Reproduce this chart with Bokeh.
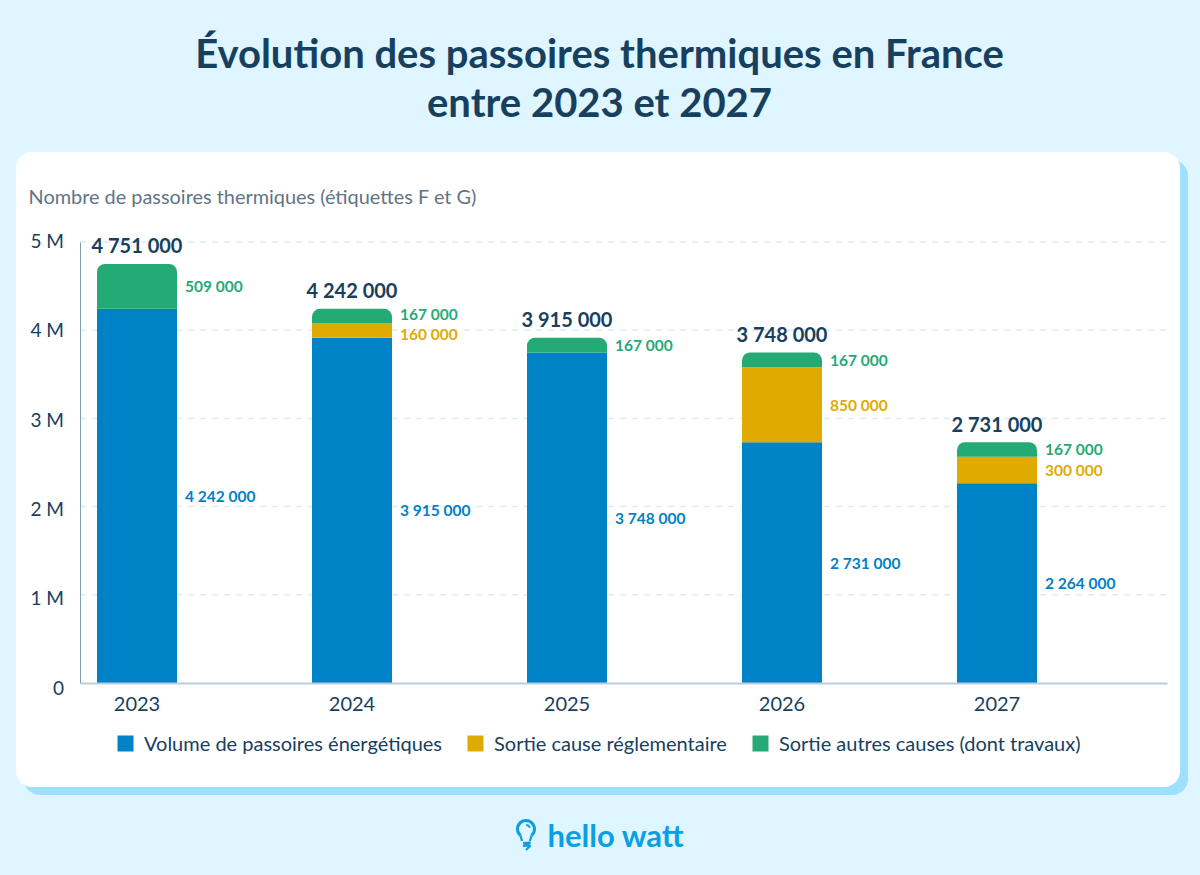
import numpy as np
from bokeh.plotting import figure
from bokeh.core.properties import value
from bokeh.models import (ColumnDataSource, LinearAxis, FixedTicker, Range1d, BoxAnnotation,
                          Label, Legend, LegendItem)
from bokeh.embed import file_html
from bokeh.resources import INLINE

# ---- data ----
years = ["2023", "2024", "2025", "2026", "2027"]
volume = [4242000, 3915000, 3748000, 2731000, 2264000]
reglementaire = [0, 160000, 0, 850000, 300000]
autres = [509000, 167000, 167000, 167000, 167000]
totals = [4751000, 4242000, 3915000, 3748000, 2731000]
series_names = ["Volume de passoires énergétiques", "Sortie cause réglementaire",
                "Sortie autres causes (dont travaux)"]
y_ticks = [0, 1000000, 2000000, 3000000, 4000000, 5000000]
y_tick_labels = ["0", "1 M", "2 M", "3 M", "4 M", "5 M"]
title_lines = ["Évolution des passoires thermiques en France", "entre 2023 et 2027"]
subtitle = "Nombre de passoires thermiques (étiquettes F et G)"
brand = "hello watt"

# ---- styling ----
BG, SHADOW, CARD = "#dff5ff", "#9de0ff", "#ffffff"
BLUE, YELLOW, GREEN = "#0082c6", "#e0ab00", "#24aa74"
NAVY, GREY, BRAND = "#17405f", "#5f7486", "#0a9fe3"
FONT = "Lato"
W, H = 1200, 875
SHIFT = 0.5                 # small registration offset between canvas and page
PX_UNIT_X = 215.0           # pixels per category
PX_UNIT_Y = 441.0 / 5e6     # pixels per housing unit
X0_PAGE, Y0_PAGE = 137.0, 683.0  # page position of first category / of zero


def dx(px):  # page px -> data x
    return (px - X0_PAGE) / PX_UNIT_X


def dy(py):  # page py -> data y
    return (Y0_PAGE - py) / PX_UNIT_Y


p = figure(width=W, height=H, output_backend="svg", toolbar_location=None,
           x_range=Range1d(dx(SHIFT), dx(W + SHIFT)), y_range=Range1d(dy(H + SHIFT), dy(SHIFT)),
           x_axis_location=None, y_axis_location=None, min_border=0,
           background_fill_color=BG, border_fill_color=BG, outline_line_color=None)
p.grid.visible = False

# tick labels sit on a slightly wider scale than the gridlines in the reference
LAB_UNIT = 446.5 / 5e6
p.extra_y_ranges = {"ticklabels": Range1d((687 - H - SHIFT) / LAB_UNIT, (687 - SHIFT) / LAB_UNIT)}

# ---- card ----
for (l, r, t, b, c) in [(23.5, 1187.5, 159.5, 794.5, SHADOW), (15.5, 1179.5, 151.5, 786.5, CARD)]:
    p.add_layout(BoxAnnotation(left=l, right=r, top=t, bottom=b, left_units="canvas",
                               right_units="canvas", top_units="canvas", bottom_units="canvas",
                               fill_color=c, fill_alpha=1, line_color=None, border_radius=16,
                               level="image"))

# ---- gridlines ----
x_left, x_right = dx(80), dx(1167)
grid_y = [v for v in y_ticks if v > 0]
gl = p.segment(x0=[x_left] * len(grid_y), x1=[x_right] * len(grid_y), y0=grid_y, y1=grid_y,
               line_color="#dfecf4", line_width=1.5, level="underlay")
gl.glyph.line_dash = [6, 6]

# ---- bars ----
x = list(range(len(years)))
vol = np.array(volume, dtype=float)
reg = np.array(reglementaire, dtype=float)
aut = np.array(autres, dtype=float)
source = ColumnDataSource(dict(x=x, b0=0 * vol, t0=vol, t1=vol + reg, t2=vol + reg + aut))
BAR_W = 80 / PX_UNIT_X
r0 = p.vbar(x="x", bottom="b0", top="t0", width=BAR_W, fill_color=BLUE, line_color=None, source=source)
r1 = p.vbar(x="x", bottom="t0", top="t1", width=BAR_W, fill_color=YELLOW, line_color=None, source=source)
r2 = p.vbar(x="x", bottom="t1", top="t2", width=BAR_W, fill_color=GREEN, line_color=None, source=source,
            border_radius=(8, 8, 0, 0))

# ---- axes ----
yax = LinearAxis(fixed_location=x_left, bounds=(0, 5000000), ticker=FixedTicker(ticks=y_ticks),
                 major_label_text_color=None, major_tick_line_color=None, minor_tick_line_color=None,
                 axis_line_color="#7f9fb3", axis_line_width=1)
p.add_layout(yax, "left")
ylab = LinearAxis(y_range_name="ticklabels", fixed_location=x_left, ticker=FixedTicker(ticks=y_ticks),
                  major_label_overrides=dict(zip(y_ticks, y_tick_labels)),
                  major_tick_line_color=None, minor_tick_line_color=None, axis_line_color=None,
                  major_label_text_font=FONT, major_label_text_font_size="19px",
                  major_label_text_color=NAVY, major_label_standoff=10)
p.add_layout(ylab, "left")
xax = LinearAxis(fixed_location=0, bounds=(x_left, x_right), ticker=FixedTicker(ticks=x),
                 major_label_overrides=dict(zip(x, years)),
                 major_tick_line_color=None, minor_tick_line_color=None,
                 axis_line_color="#bccdd9", axis_line_width=2,
                 major_label_text_font=FONT, major_label_text_font_size="20px",
                 major_label_text_color=NAVY, major_label_standoff=8)
p.add_layout(xax, "below")


# ---- value labels ----
def fmt(v):
    return f"{int(v):,}".replace(",", " ")


label_x = [i + 48 / PX_UNIT_X for i in x]
common = dict(text_font=value(FONT), text_baseline="middle", text_font_size="15.5px",
              text_font_style="bold", text_align="left")
p.text(x=label_x, y=list(vol / 2), text=[fmt(v) for v in vol], text_color=BLUE, **common)
keep = reg > 0
p.text(x=list(np.array(label_x)[keep]), y=list((vol + reg / 2)[keep]), text=[fmt(v) for v in reg[keep]],
       y_offset=[3, 0, 0], text_color=YELLOW, **common)
p.text(x=label_x, y=list(vol + reg + aut / 2), text=[fmt(v) for v in aut],
       y_offset=[0, -2, 0, 0, 0], text_color=GREEN, **common)
p.text(x=x, y=totals, text=[fmt(v) for v in totals], y_offset=-18.5, text_color=NAVY,
       text_font=value(FONT), text_baseline="middle",
       text_font_size="20px", text_font_style="bold", text_align="center")

# ---- legend ----
legend = Legend(items=[LegendItem(label=n, renderers=[r]) for n, r in zip(series_names, (r0, r1, r2))],
                orientation="horizontal", location=(115, 120), padding=0, margin=0, spacing=23,
                glyph_width=20, glyph_height=20, label_standoff=9, label_height=20,
                label_text_font=FONT, label_text_font_size="20px", label_text_color=NAVY,
                border_line_color=None, background_fill_alpha=0)
p.add_layout(legend, "center")


# ---- texts in page coordinates ----
def text(px, py, s, size, color, style="normal", align="left"):
    p.add_layout(Label(x=px - 1, y=py - 1, x_units="canvas", y_units="canvas", text=s,
                       text_font=FONT, text_font_size=size, text_color=color, text_font_style=style,
                       text_align=align, text_baseline="middle"))


text(600, 53, title_lines[0], "40px", NAVY, "bold", "center")
text(600, 102, title_lines[1], "40px", NAVY, "bold", "center")
text(29, 196, subtitle, "19.9px", GREY)
text(548, 835, brand, "31px", BRAND, "bold")

# ---- logo bulb (decoration, in page coordinates) ----
p.arc(x=[dx(526)], y=[dy(829)], radius=8.5, radius_units="screen", start_angle=-0.87, end_angle=4.01,
      line_color=BRAND, line_width=3, level="overlay")
p.arc(x=[dx(526)], y=[dy(829)], radius=4, radius_units="screen", start_angle=0.3, end_angle=1.5,
      line_color=BRAND, line_width=1.8, level="overlay")
for seg in ([(531.5, 835.5), (530, 841)], [(520.5, 835.5), (522, 841)],
            [(523, 843), (530.5, 842.5), (523, 846), (530.5, 845.5), (526, 850)]):
    p.line(x=[dx(a) for a, _ in seg], y=[dy(b) for _, b in seg], line_color=BRAND, line_width=2.2,
           level="overlay")

html = file_html(p, INLINE).replace("<body>", f'<body style="background:{BG}">')
open("out.html", "w").write(html)
